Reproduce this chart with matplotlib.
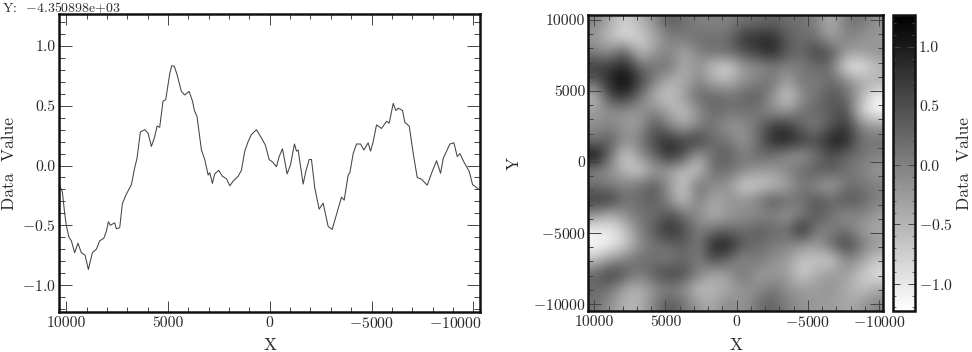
# plot.py
import matplotlib
matplotlib.use("Agg")
import matplotlib.pyplot as plt
from matplotlib.ticker import FixedLocator
from matplotlib.transforms import ScaledTranslation

plt.rcParams["font.family"] = ["cmr10", "DejaVu Serif"]
plt.rcParams["mathtext.fontset"] = "cm"
plt.rcParams["axes.unicode_minus"] = False

# slice along X
slice_x = [10328, 10195, 10080, 10000, 9870, 9750, 9590, 9425, 9260, 9080, 8915, 8720, 8520, 8360, 8160,
           8030, 7930, 7835, 7620, 7540, 7375, 7245, 7080, 6800, 6640, 6525, 6360, 6145, 5980, 5820,
           5655, 5540, 5410, 5245, 5115, 4915, 4820, 4690, 4555, 4345, 4180, 3965, 3800, 3705, 3575,
           3360, 3195, 3030, 2950, 2820, 2705, 2510, 2330, 2130, 1965, 1800, 1555, 1395, 1230, 1065,
           900, 655, 410, 215, 33, -130, -328, -460, -623, -852, -1016, -1213, -1311, -1393, -1639,
           -1770, -1934, -2049, -2213, -2426, -2622, -2868, -3065, -3278, -3524, -3655, -3852, -3934, -4098, -4262,
           -4458, -4622, -4835, -4950, -5081, -5245, -5491, -5737, -5868, -6065, -6196, -6311, -6524, -6638, -6851,
           -7049, -7245, -7457, -7736, -7949, -8195, -8392, -8523, -8851, -9048, -9212, -9343, -9507, -9802, -9966,
           -10130, -10277]
slice_y = [-0.17, -0.22, -0.40, -0.50, -0.60, -0.63, -0.73, -0.65, -0.73, -0.75, -0.87, -0.73, -0.70, -0.63, -0.61,
           -0.55, -0.47, -0.50, -0.48, -0.53, -0.52, -0.32, -0.25, -0.16, -0.02, 0.06, 0.28, 0.30, 0.27, 0.16,
           0.24, 0.33, 0.32, 0.54, 0.55, 0.77, 0.835, 0.83, 0.76, 0.62, 0.59, 0.62, 0.54, 0.46, 0.41,
           0.13, 0.05, -0.08, -0.06, -0.15, -0.07, -0.04, -0.09, -0.11, -0.17, -0.13, -0.09, -0.04, 0.12, 0.20,
           0.26, 0.30, 0.23, 0.17, 0.05, 0.03, -0.01, 0.075, 0.14, -0.07, 0.005, 0.18, 0.12, 0.13, -0.155,
           -0.05, 0.05, 0.05, -0.19, -0.365, -0.315, -0.51, -0.535, -0.41, -0.265, -0.29, -0.08, -0.06, 0.10, 0.18,
           0.18, 0.13, 0.19, 0.12, 0.20, 0.34, 0.31, 0.37, 0.355, 0.52, 0.46, 0.48, 0.46, 0.36, 0.33,
           0.10, -0.10, -0.115, -0.165, -0.065, 0.04, -0.065, 0.06, 0.18, 0.19, 0.075, 0.10, 0.04, -0.05, -0.16,
           -0.18, -0.20]

# map values, top row first, left column first
field = [
    [0.0, -0.4, -0.8, -0.5, -0.15, 0.4, 0.15, 0.0, 0.0, 0.0, 0.15, 0.2, 0.3, 0.2, 0.15, 0.0, -0.5, 0.1, 0.15, -0.15],
    [-0.25, -0.65, -0.9, -0.8, -0.4, 0.0, 0.1, 0.2, 0.15, 0.15, 0.75, 0.8, 0.85, 0.35, 0.2, 0.15, -0.4, 0.0, -0.15, -0.25],
    [0.0, -0.15, 0.4, -0.65, -0.25, 0.0, -0.4, 0.0, 0.2, 0.25, 0.45, 0.7, 0.95, 0.4, 0.25, 0.65, 0.45, -0.25, -0.25, -0.15],
    [0.7, 0.7, 0.95, 0.25, 0.15, 0.15, -0.45, -0.15, -0.65, -0.9, -0.25, -0.15, 0.0, 0.0, 0.0, 0.25, 0.15, -0.95, -1.05, -0.6],
    [0.3, 0.9, 1.25, 0.65, 0.0, -0.5, -0.45, 0.0, -0.4, -0.5, -0.15, 0.0, 0.2, -0.4, 0.2, 0.0, 0.25, 0.0, -0.4, -0.4],
    [-0.6, 0.6, 0.8, 0.15, -0.5, -0.7, -0.25, 0.25, 0.3, 0.15, 0.25, 0.4, -0.15, -0.8, -0.15, 0.15, 0.45, 0.25, -0.4, -1.15],
    [-0.25, -0.15, -0.15, -0.25, 0.0, -0.4, -0.65, -0.15, 0.25, 0.15, 0.15, 0.1, -0.15, -0.25, 0.15, 0.25, 0.35, 0.55, -0.8, -1.15],
    [-0.15, 0.0, -0.25, -0.25, 0.45, 0.0, -0.4, 0.0, 0.15, -0.25, -0.15, 0.15, 0.7, 0.75, 0.25, 0.0, 0.45, 0.75, 0.0, -0.25],
    [0.15, 0.4, -0.15, 0.0, 0.6, 0.85, 0.6, 0.75, 0.15, 0.15, -0.25, 0.2, 0.85, 0.95, 0.7, 0.5, 1.0, 0.95, 0.15, 0.15],
    [1.2, 0.2, -0.85, -0.15, 0.25, 0.85, 0.5, -0.4, 0.25, 0.4, 0.0, 0.25, 0.15, -0.15, -0.25, 0.15, 0.5, 0.25, 0.15, 0.0],
    [0.0, -0.15, -0.55, -0.8, -0.25, -0.3, -0.6, -0.7, 0.25, 0.15, 0.0, -0.25, -0.25, 0.0, 0.2, 0.4, 0.4, 0.15, 0.0, -0.25],
    [0.15, 0.0, 0.0, 0.15, 0.4, -0.15, -0.75, 0.25, -0.15, -0.15, -0.85, -0.7, -0.6, -0.4, 0.15, -0.15, -0.4, 0.15, 0.15, 0.0],
    [0.7, 0.75, 0.15, 0.2, 0.4, -0.15, -0.7, 0.1, -0.45, -0.15, -0.15, 0.0, 0.45, 0.2, 0.15, 0.45, 0.25, 0.45, 0.35, 0.0],
    [-0.15, -0.5, -0.15, 0.15, 0.15, 0.5, 0.15, -0.15, -0.5, -0.25, -0.15, -0.15, 0.0, -0.25, 0.0, 0.45, 0.15, -0.15, 0.0, -0.25],
    [-1.05, -1.0, -0.65, 0.0, 0.4, 0.85, 0.55, 0.0, 0.15, 0.25, 0.15, 0.4, 0.25, 0.15, 1.0, 0.0, 0.0, 0.15, -0.25, -0.4],
    [-1.2, -1.05, -0.8, -0.15, 0.15, 0.25, 0.4, 0.0, 0.95, 1.0, 0.4, 0.2, 0.1, 0.0, -0.15, -0.25, 0.25, 0.7, 0.15, -0.25],
    [-0.65, -0.25, 0.0, 0.2, 0.15, 0.0, 0.25, 0.0, 0.55, 0.25, -0.15, 0.15, -0.15, -0.25, -0.65, -0.65, -0.8, 0.0, -0.25, -0.65],
    [0.25, 0.7, 0.4, 0.0, 0.4, 0.65, 0.55, 0.0, -0.4, -0.25, 0.2, -0.25, -0.25, -0.25, -0.8, -0.4, -0.25, -0.25, -0.65, -0.95],
    [0.25, 0.15, -0.4, -0.5, -0.15, 0.0, -0.15, -0.65, -0.5, -0.4, -0.15, -0.15, 0.15, -0.15, -0.25, -0.25, -0.15, -0.4, -0.65, -0.4],
    [0.15, -0.15, -0.5, -0.5, 0.0, 0.45, 0.15, -0.25, -0.4, 0.0, -0.25, 0.15, 0.35, 0.0, -0.15, -0.25, -0.25, -0.4, -0.25, 0.0],
]

pos_ticks = [10000, 5000, 0, -5000, -10000]
pos_labels = ["10000", "5000", "0", "$-5000$", "$-10000$"]
minor_pos = list(range(-10000, 11000, 1000))
val_ticks = [1.0, 0.5, 0.0, -0.5, -1.0]
val_labels = ["1.0", "0.5", "0.0", "$-0.5$", "$-1.0$"]
minor_val = [i / 10 for i in range(-12, 13)]
vmin, vmax = -1.23, 1.267

W, H = 972, 352
DARK = "#2a2a2a"
TICKSIZE = 11.3


def box(x0, y0, x1, y1):
    # pixel box -> figure fractions
    return [x0 / W, 1 - y1 / H, (x1 - x0) / W, (y1 - y0) / H]


def style(ax, xmaj=11, ymaj=13, ymin=6):
    for s in ax.spines.values():
        s.set_linewidth(1.8)
        s.set_color("#111111")
    ax.tick_params(which="both", direction="in", top=True, right=True, width=0.7,
                   color="#444444", labelcolor=DARK, labelsize=TICKSIZE)
    ax.tick_params(axis="x", which="major", length=xmaj * 0.72, pad=3)
    ax.tick_params(axis="x", which="minor", length=5 * 0.72)
    ax.tick_params(axis="y", which="major", length=ymaj * 0.72, pad=2)
    ax.tick_params(axis="y", which="minor", length=ymin * 0.72)


fig = plt.figure(figsize=(W / 100, H / 100), dpi=100)

# left panel
ax1 = fig.add_axes(box(58.5, 14, 480, 312))
ax1.plot(slice_x, slice_y, color="#444444", lw=0.75)
ax1.set_xlim(10383, -10330)
ax1.set_ylim(-1.226, 1.268)
ax1.set_xticks(pos_ticks, pos_labels)
ax1.xaxis.set_minor_locator(FixedLocator(minor_pos))
ax1.set_yticks(val_ticks, val_labels)
ax1.yaxis.set_minor_locator(FixedLocator(minor_val))
style(ax1)
shift = ScaledTranslation(-18 / 100, 0, fig.dpi_scale_trans)
last = ax1.get_xticklabels()[-1]
last.set_transform(last.get_transform() + shift)

# right panel
ax2 = fig.add_axes(box(588.3, 15, 883, 311))
xlim2 = (10420, -10280)
ylim2 = (-10490, 10350)
im = ax2.imshow(field, cmap="gray_r", vmin=vmin, vmax=vmax, interpolation="bicubic",
                extent=[xlim2[0], xlim2[1], ylim2[0], ylim2[1]], origin="upper", aspect="auto")
ax2.set_xlim(*xlim2)
ax2.set_ylim(*ylim2)
ax2.set_xticks(pos_ticks, pos_labels)
ax2.xaxis.set_minor_locator(FixedLocator(minor_pos))
ax2.set_yticks(pos_ticks, pos_labels)
ax2.yaxis.set_minor_locator(FixedLocator(minor_pos))
style(ax2, ymin=5)

# colorbar
cax = fig.add_axes(box(893, 15, 915, 311))
cb = fig.colorbar(im, cax=cax)
cb.set_ticks(val_ticks, labels=val_labels)
cax.yaxis.set_minor_locator(FixedLocator(minor_val))
cb.outline.set_visible(True)
cb.outline.set_linewidth(1.8)
cb.outline.set_edgecolor("#111111")
cax.tick_params(which="major", direction="in", left=True, right=True, length=5, width=0.7,
                color="#444444", labelcolor=DARK, labelsize=TICKSIZE, pad=3)
cax.tick_params(which="minor", direction="in", left=True, right=True, length=2.5, width=0.6, color="#555555")


# labels in pixel positions
def label(x, y, s, rot=0, size=12.5, ha="center"):
    fig.text(x / W, 1 - y / H, s, rotation=rot, ha=ha, va="center", fontsize=size, color=DARK)


label(9, 164, "Data  Value", rot=90)
label(270, 345, "X")
label(736, 345, "X")
label(514, 163, "Y", rot=90)
label(964, 163, "Data  Value", rot=90)
label(2, 8, "Y:  $-$4.350898e+03", size=10, ha="left")

fig.savefig("out.png", dpi=100)
